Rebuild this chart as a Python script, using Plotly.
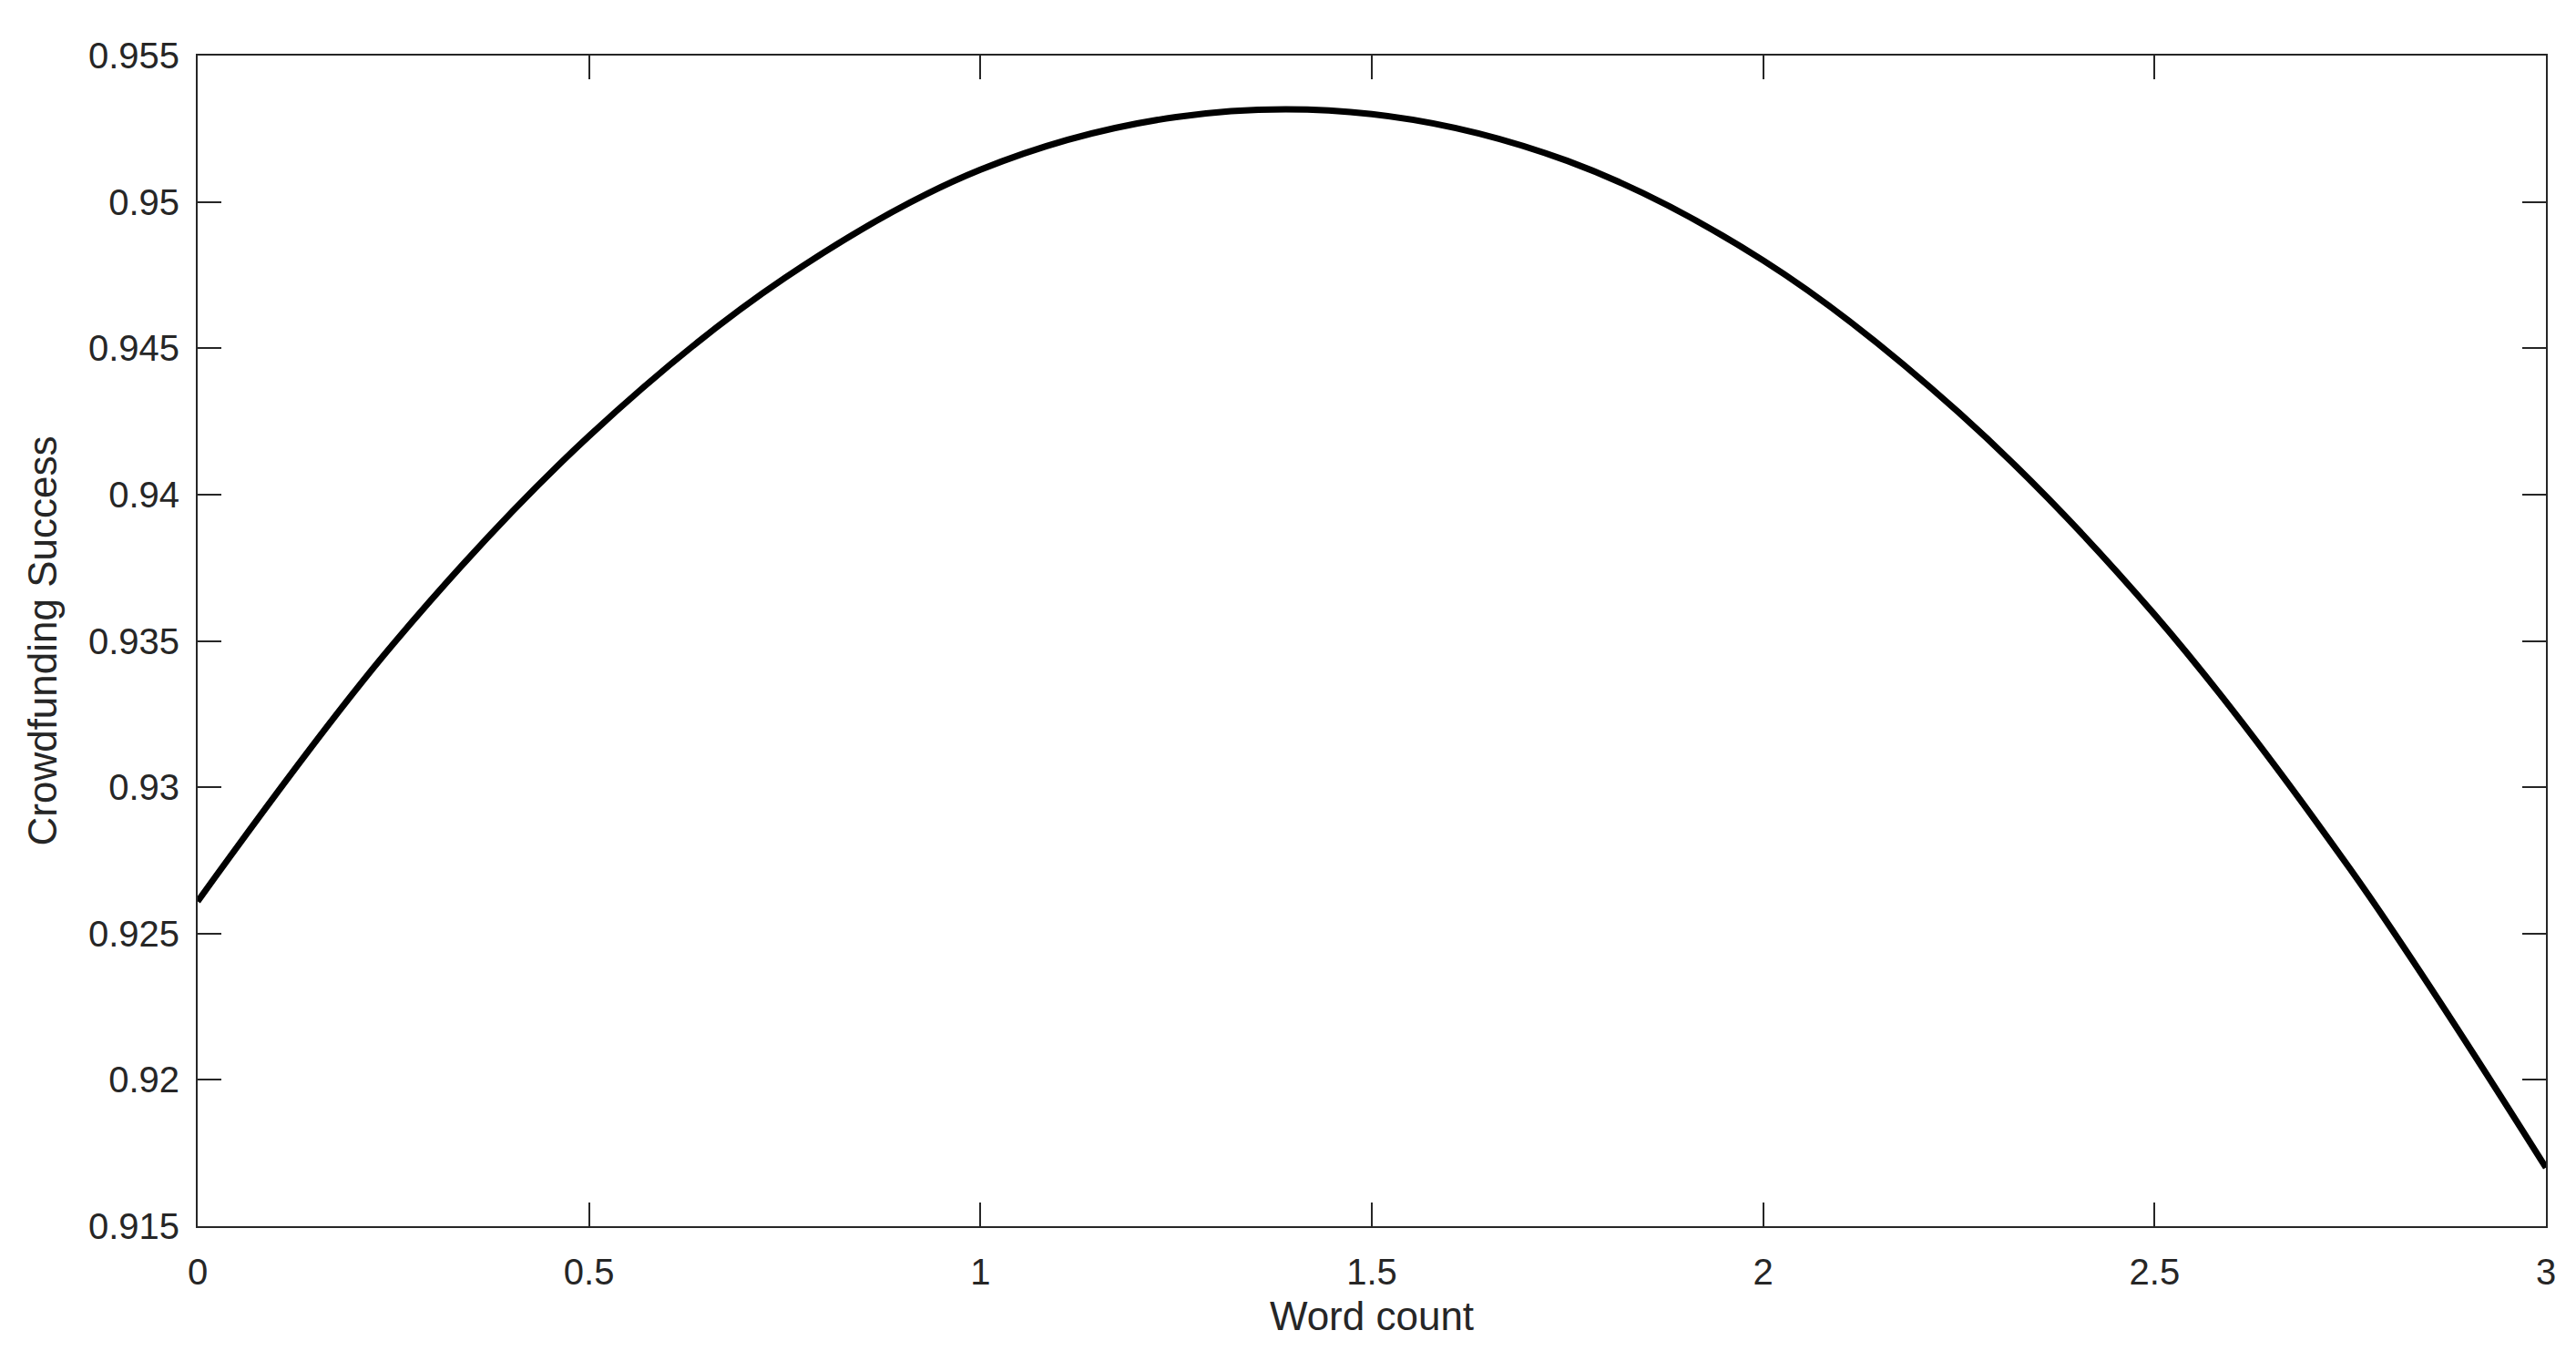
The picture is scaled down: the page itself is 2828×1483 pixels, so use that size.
import plotly.graph_objects as go

# values
word_count = [0, 0.25, 0.5, 0.75, 1.0, 1.25, 1.5, 1.75, 2.0, 2.25, 2.5, 2.75, 3.0]
success = [0.9261, 0.9349, 0.9420, 0.9474, 0.9511, 0.9529, 0.9530, 0.9514,
           0.9480, 0.9428, 0.9359, 0.9272, 0.9170]

x_ticks = [0, 0.5, 1, 1.5, 2, 2.5, 3]
x_labels = ["0", "0.5", "1", "1.5", "2", "2.5", "3"]
y_ticks = [0.915, 0.92, 0.925, 0.93, 0.935, 0.94, 0.945, 0.95, 0.955]
y_labels = ["0.915", "0.92", "0.925", "0.93", "0.935", "0.94", "0.945", "0.95", "0.955"]

axis_color = "#262626"
font_family = "Liberation Sans, Arial, sans-serif"

fig = go.Figure()
fig.add_trace(go.Scatter(x=word_count, y=success, mode="lines",
                         line=dict(color="black", width=7, shape="spline", smoothing=1.0),
                         showlegend=False))

axis_common = dict(showline=True, linecolor=axis_color, linewidth=2, mirror="ticks",
                   ticks="inside", ticklen=26, tickwidth=2, tickcolor=axis_color,
                   showgrid=False, zeroline=False,
                   tickfont=dict(family=font_family, size=40, color=axis_color))

fig.update_xaxes(range=[0, 3], tickvals=x_ticks, ticktext=x_labels,
                 title=dict(text="Word count", font=dict(family=font_family, size=44, color=axis_color),
                            standoff=12),
                 ticklabelstandoff=14,
                 **axis_common)
fig.update_yaxes(range=[0.915, 0.955], tickvals=y_ticks, ticktext=y_labels,
                 title=dict(text="Crowdfunding Success", font=dict(family=font_family, size=44, color=axis_color),
                            standoff=20),
                 ticklabelstandoff=10,
                 **axis_common)

fig.update_layout(width=2828, height=1483,
                  margin=dict(l=209, r=41, t=53, b=145),
                  paper_bgcolor="white", plot_bgcolor="white")

fig.write_html("out.html")
